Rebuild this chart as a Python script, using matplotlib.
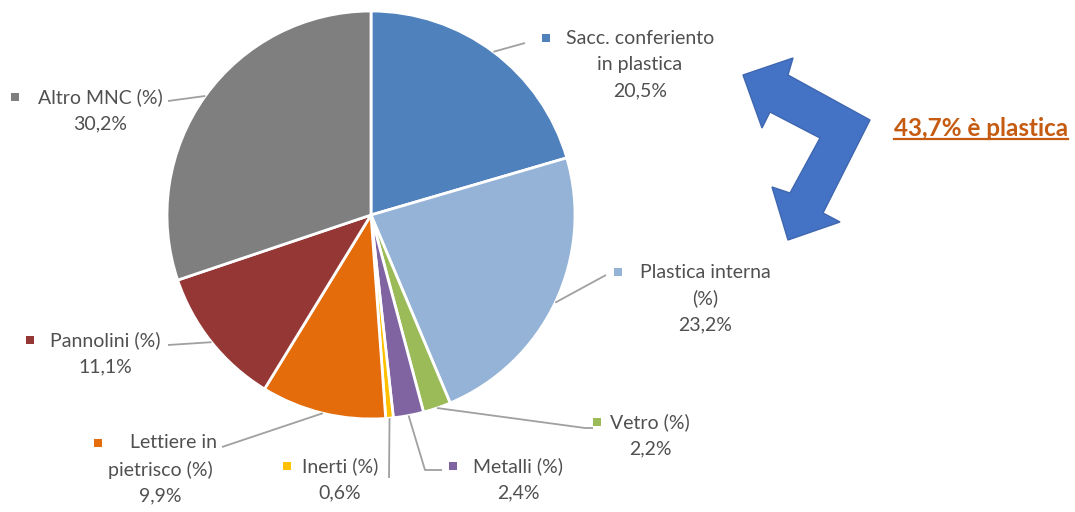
import matplotlib.pyplot as plt
import numpy as np
from matplotlib.patches import Polygon

plt.rcParams['font.family'] = ['Lato', 'DejaVu Sans']

# data
categories = ['Sacc. conferiento\nin plastica', 'Plastica interna\n(%)', 'Vetro (%)',
              'Metalli (%)', 'Inerti (%)', 'Lettiere in\npietrisco (%)',
              'Pannolini (%)', 'Altro MNC (%)']
values = [20.5, 23.2, 2.2, 2.4, 0.6, 9.9, 11.1, 30.2]
colors = ['#4F81BD', '#95B3D7', '#9BBB59', '#8064A2', '#FFC000', '#E46C0A',
          '#953735', '#7F7F7F']
plastic_note = '43,7% è plastica'

W, H = 1075, 512
fig = plt.figure(figsize=(W / 100, H / 100), dpi=100)
ax = fig.add_axes([0, 0, 1, 1])

def Y(y):
    # pixel row (from top) -> data y
    return H - y

cx, cy, r = 371, 215, 204
wedges, _ = ax.pie(values, colors=colors, startangle=90, counterclock=False,
                   center=(cx, Y(cy)), radius=r,
                   wedgeprops=dict(edgecolor='white', linewidth=2))
ax.set_xlim(0, W)
ax.set_ylim(0, H)
ax.set_aspect('equal')
ax.axis('off')

txt_col = '#505050'
line_col = '#A0A0A0'

# label layout: (text centre x, first line y, marker x, leader path after edge point)
layout = [
    (640, 38, 546, [(525, 43)]),
    (705, 272, 618, [(606, 275)]),
    (650, 422, 597, [(585, 428)]),
    (518, 466, 453, [(425, 470), (442, 470)]),
    (340, 466, 287, [(389, 478)]),
    (160, 443, 98, [(222, 447)]),
    (105, 340, 30, [(168, 345)]),
    (100, 97, 15, [(168, 101)]),
]

for w, cat, val, col, (tx, ty, mx, path) in zip(wedges, categories, values, colors, layout):
    mid = np.deg2rad((w.theta1 + w.theta2) / 2)
    ex, ey = cx + r * np.cos(mid), Y(cy) + r * np.sin(mid)
    xs = [ex] + [p[0] for p in path]
    ys = [ey] + [Y(p[1]) for p in path]
    if len(path) == 1 and cat.startswith('Vetro'):
        xs.append(path[0][0] + 8)
        ys.append(Y(path[0][1]))
    ax.plot(xs, ys, color=line_col, lw=1.3, solid_capstyle='butt')
    label = cat + '\n' + f'{val:.1f}%'.replace('.', ',')
    lines = label.split('\n')
    for i, ln in enumerate(lines):
        ax.text(tx if not (i == 0 and cat.startswith('Lettiere')) else tx + 14,
                Y(ty + i * 26.5), ln, ha='center', va='center',
                fontsize=14, color=txt_col)
    ax.scatter([mx], [Y(ty)], marker='s', s=34, color=col, linewidths=0)

# bent double arrow
arrow_px = [(743, 75), (793, 58), (788, 75), (870, 120), (823, 213), (840, 222),
            (788, 240), (772, 187), (790, 193), (820, 138), (770, 112), (762, 128)]
ax.add_patch(Polygon([(x, Y(y)) for x, y in arrow_px], closed=True,
                     facecolor='#4472C4', edgecolor='#3F67B0', lw=1))

note = ax.text(981, Y(128), plastic_note, ha='center', va='center', fontsize=17.5,
               fontweight='bold', color='#C55A11')
fig.canvas.draw()
bb = note.get_window_extent().transformed(ax.transData.inverted())
ax.plot([bb.x0, bb.x1], [bb.y0 + 1, bb.y0 + 1], color='#C55A11', lw=1.6)

fig.savefig('out.png', dpi=100, facecolor='white')
